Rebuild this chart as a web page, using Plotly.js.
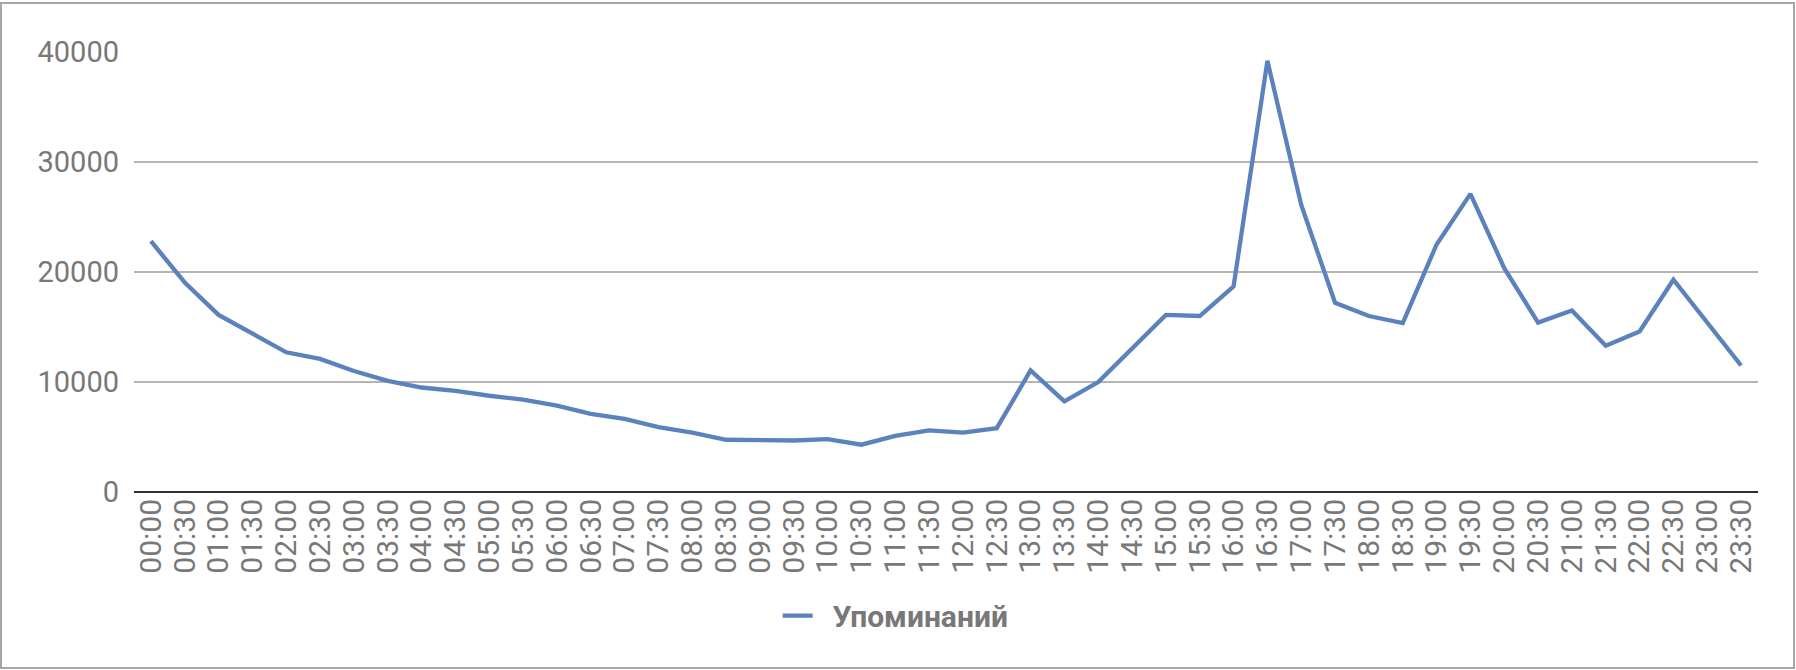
<!DOCTYPE html>
<html>
<head>
<meta charset="utf-8">
<script src="https://cdn.plot.ly/plotly-3.0.1.min.js"></script>
<style>
  html, body { margin: 0; padding: 0; background: #ffffff; }
  #wrap { position: relative; width: 1796px; height: 670px; }
  #chart { position: absolute; left: 0; top: 0; width: 1796px; height: 670px; }
  #frame { position: absolute; left: 0px; top: 2px; width: 1795px; height: 667px; box-sizing: border-box; border: 2px solid #a6a6a6; pointer-events: none; }
</style>
</head>
<body>
<div id="wrap">
  <div id="chart"></div>
  <div id="frame"></div>
</div>
<script>
const times = [
  "00:00","00:30","01:00","01:30","02:00","02:30","03:00","03:30",
  "04:00","04:30","05:00","05:30","06:00","06:30","07:00","07:30",
  "08:00","08:30","09:00","09:30","10:00","10:30","11:00","11:30",
  "12:00","12:30","13:00","13:30","14:00","14:30","15:00","15:30",
  "16:00","16:30","17:00","17:30","18:00","18:30","19:00","19:30",
  "20:00","20:30","21:00","21:30","22:00","22:30","23:00","23:30"
];
const mentions = [
  22800, 19050, 16100, 14400, 12700, 12100, 11000, 10100,
  9500, 9200, 8750, 8400, 7850, 7100, 6650, 5900,
  5400, 4750, 4700, 4680, 4800, 4300, 5100, 5600,
  5400, 5800, 11050, 8250, 10000, 13100, 16100, 16000,
  18700, 39200, 26100, 17200, 16000, 15350, 22500, 27100,
  20350, 15400, 16500, 13300, 14600, 19300, 15400, 11500
];
const seriesName = "Упоминаний";
const yTicks = [0, 10000, 20000, 30000, 40000];

const textColor = "#787878";
const fontFamily = "Roboto, 'Noto Sans', sans-serif";

const trace = {
  type: "scatter",
  mode: "lines",
  x: times,
  y: mentions,
  name: "\u00A0\u00A0<b>" + seriesName + "</b>",
  line: { color: "#5b82bc", width: 4.3, shape: "linear" },
  hoverinfo: "x+y"
};

const layout = {
  width: 1796,
  height: 670,
  margin: { l: 134, r: 38, t: 52, b: 178, pad: 0 },
  paper_bgcolor: "rgba(0,0,0,0)",
  plot_bgcolor: "#ffffff",
  font: { family: fontFamily, size: 29, color: textColor },
  showlegend: true,
  legend: {
    orientation: "h",
    x: 0.469,
    xanchor: "center",
    y: -0.281,
    yanchor: "middle",
    font: { family: fontFamily, size: 30, color: textColor },
    bgcolor: "rgba(0,0,0,0)"
  },
  xaxis: {
    type: "category",
    categoryorder: "array",
    categoryarray: times,
    range: [-0.5, times.length - 0.5],
    tickmode: "array",
    tickvals: times,
    ticktext: times,
    tickangle: -90,
    showgrid: false,
    zeroline: false,
    showline: false,
    ticks: "",
    tickfont: { family: fontFamily, size: 30, color: textColor },
    fixedrange: true
  },
  yaxis: {
    range: [0, 40000],
    tickmode: "array",
    tickvals: yTicks,
    ticktext: yTicks.map(String),
    showgrid: true,
    gridcolor: "#b4b4b4",
    gridwidth: 2.2,
    zeroline: true,
    zerolinecolor: "#2e2e2e",
    zerolinewidth: 2.5,
    showline: false,
    ticks: "",
    ticklabelstandoff: 14,
    tickfont: { family: fontFamily, size: 29, color: textColor },
    fixedrange: true
  }
};

Plotly.newPlot("chart", [trace], layout, { displayModeBar: false, staticPlot: true });
</script>
</body>
</html>
